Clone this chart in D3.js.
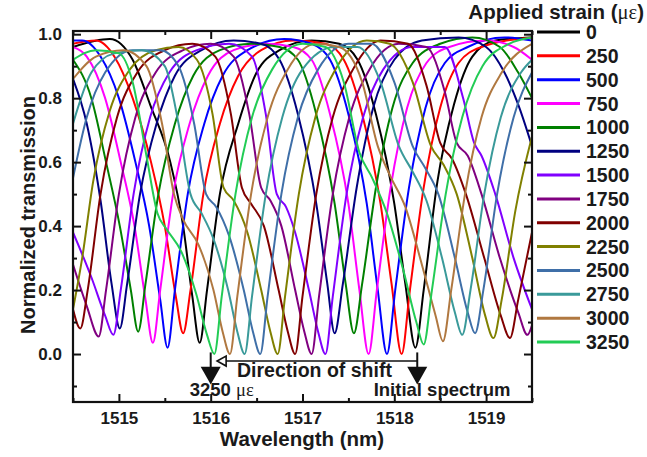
<!DOCTYPE html>
<html>
<head>
<meta charset="utf-8">
<script src="https://cdn.jsdelivr.net/npm/d3@7"></script>
<style>
  body { margin: 0; background: #fff; }
  text { font-family: 'Liberation Sans', Arial, sans-serif; font-weight: bold; fill: #1a1a1a; }
</style>
</head>
<body>
<script>
// ---------------- data ----------------
const strains = ['0', '250', '500', '750', '1000', '1250', '1500', '1750', '2000', '2250', '2500', '2750', '3000', '3250']
const colors = ['#000000', '#ff0000', '#0000ff', '#ff00ff', '#008000', '#000080', '#8000ff',
    '#800080', '#800000', '#808000', '#3f6fa8', '#3a9a9a', '#b07840', '#22cc55']

const xTicks = [1515, 1516, 1517, 1518, 1519]
const xMinor = [1514.5, 1515.5, 1516.5, 1517.5, 1518.5, 1519.5]
const yTicks = [0, 0.2, 0.4, 0.6, 0.8, 1.0]
const yMinor = [-0.1, 0.1, 0.3, 0.5, 0.7, 0.9]

// [wavelength (nm), normalized transmission]
const spec0 = [[1514.5, 0.96], [1514.9, 0.985], [1515.15, 0.92], [1515.34, 0.78], [1515.56, 0.6], [1515.7, 0.4], [1515.8, 0.18],
    [1515.88, 0.035], [1515.96, 0.2], [1516.1, 0.5], [1516.3, 0.72], [1516.5, 0.88], [1516.75, 0.95], [1517.1, 0.98],
    [1517.4, 0.97], [1517.6, 0.92], [1517.8, 0.75], [1518.0, 0.47], [1518.12, 0.22], [1518.23, 0.02], [1518.32, 0.2],
    [1518.47, 0.54], [1518.65, 0.78], [1518.85, 0.93], [1519.1, 0.98], [1519.5, 0.99]]
const spec250 = [[1514.5, 0.97], [1514.75, 0.98], [1514.95, 0.93], [1515.15, 0.8], [1515.35, 0.6], [1515.5, 0.4], [1515.62, 0.18],
    [1515.7, 0.065], [1515.78, 0.2], [1515.92, 0.5], [1516.1, 0.72], [1516.3, 0.87], [1516.55, 0.95], [1516.9, 0.98],
    [1517.25, 0.97], [1517.45, 0.92], [1517.65, 0.75], [1517.85, 0.47], [1517.97, 0.22], [1518.08, 0.0], [1518.17, 0.2],
    [1518.32, 0.52], [1518.5, 0.77], [1518.7, 0.91], [1518.95, 0.96], [1519.5, 0.99]]
const spec500 = [[1514.5, 0.98], [1514.6, 0.98], [1514.8, 0.93], [1515.0, 0.8], [1515.18, 0.6], [1515.33, 0.4], [1515.45, 0.17],
    [1515.53, 0.02], [1515.61, 0.2], [1515.75, 0.5], [1515.93, 0.72], [1516.13, 0.87], [1516.4, 0.95], [1516.8, 0.985],
    [1517.1, 0.97], [1517.3, 0.92], [1517.5, 0.75], [1517.7, 0.47], [1517.82, 0.2], [1517.92, 0.0], [1518.01, 0.2],
    [1518.16, 0.52], [1518.34, 0.77], [1518.55, 0.91], [1518.8, 0.96], [1519.2, 0.99], [1519.5, 0.98]]
const spec750 = [[1514.5, 0.96], [1514.65, 0.93], [1514.85, 0.8], [1515.02, 0.6], [1515.17, 0.4], [1515.29, 0.17],
    [1515.37, 0.035], [1515.45, 0.2], [1515.59, 0.5], [1515.77, 0.72], [1515.97, 0.87], [1516.25, 0.95], [1516.6, 0.97],
    [1516.9, 0.96], [1517.1, 0.92], [1517.3, 0.75], [1517.5, 0.47], [1517.62, 0.2], [1517.72, 0.0], [1517.81, 0.2],
    [1517.96, 0.52], [1518.14, 0.77], [1518.35, 0.91], [1518.6, 0.96], [1519.0, 0.98], [1519.3, 0.96], [1519.5, 0.92]]
const spec1000 = [[1514.5, 0.92], [1514.7, 0.8], [1514.86, 0.6], [1515.01, 0.4], [1515.13, 0.2], [1515.21, 0.07],
    [1515.29, 0.22], [1515.43, 0.5], [1515.61, 0.72], [1515.81, 0.87], [1516.1, 0.95], [1516.45, 0.97], [1516.75, 0.96],
    [1516.95, 0.92], [1517.15, 0.75], [1517.35, 0.47], [1517.47, 0.22], [1517.56, 0.065], [1517.65, 0.22], [1517.8, 0.52],
    [1517.98, 0.77], [1518.2, 0.91], [1518.5, 0.97], [1518.85, 0.99], [1519.15, 0.96], [1519.35, 0.88], [1519.5, 0.8]]
const spec1250 = [[1514.5, 0.86], [1514.65, 0.72], [1514.8, 0.48], [1514.92, 0.22], [1515.01, 0.08], [1515.09, 0.22],
    [1515.23, 0.5], [1515.41, 0.72], [1515.61, 0.87], [1515.9, 0.95], [1516.25, 0.98], [1516.55, 0.97], [1516.75, 0.92],
    [1516.95, 0.75], [1517.15, 0.47], [1517.27, 0.22], [1517.35, 0.065], [1517.44, 0.22], [1517.59, 0.52], [1517.77, 0.77],
    [1518.0, 0.92], [1518.3, 0.98], [1518.7, 0.99], [1519.0, 0.96], [1519.2, 0.88], [1519.35, 0.78], [1519.5, 0.65]]
const spec1500 = [[1514.5, 0.38], [1514.7, 0.24], [1514.85, 0.12], [1514.94, 0.06], [1515.02, 0.2], [1515.16, 0.5],
    [1515.34, 0.74], [1515.55, 0.88], [1515.85, 0.95], [1516.2, 0.97], [1516.45, 0.93], [1516.6, 0.75], [1516.72, 0.5],
    [1516.82, 0.46], [1516.92, 0.38], [1517.07, 0.2], [1517.17, 0.07], [1517.25, 0.0], [1517.33, 0.18], [1517.48, 0.5],
    [1517.66, 0.74], [1517.88, 0.89], [1518.2, 0.96], [1518.55, 0.96], [1518.75, 0.8], [1518.87, 0.66], [1518.95, 0.62],
    [1519.1, 0.5], [1519.3, 0.3], [1519.5, 0.14]]
const spec1750 = [[1514.5, 0.28], [1514.65, 0.15], [1514.78, 0.055], [1514.86, 0.2], [1515.0, 0.5], [1515.18, 0.74],
    [1515.4, 0.88], [1515.7, 0.95], [1516.0, 0.97], [1516.25, 0.93], [1516.42, 0.75], [1516.55, 0.52], [1516.65, 0.48],
    [1516.77, 0.4], [1516.92, 0.2], [1517.02, 0.07], [1517.1, 0.0], [1517.18, 0.18], [1517.33, 0.5], [1517.51, 0.74],
    [1517.73, 0.89], [1518.05, 0.97], [1518.35, 0.96], [1518.55, 0.82], [1518.68, 0.66], [1518.8, 0.62], [1518.95, 0.5],
    [1519.15, 0.3], [1519.35, 0.13], [1519.45, 0.06], [1519.5, 0.09]]
const spec2000 = [[1514.5, 0.14], [1514.58, 0.08], [1514.66, 0.2], [1514.8, 0.5], [1514.98, 0.74], [1515.2, 0.88],
    [1515.5, 0.95], [1515.8, 0.97], [1516.05, 0.93], [1516.22, 0.75], [1516.34, 0.52], [1516.44, 0.47], [1516.58, 0.4],
    [1516.74, 0.2], [1516.84, 0.07], [1516.92, 0.0], [1517.0, 0.18], [1517.15, 0.5], [1517.33, 0.74], [1517.55, 0.89],
    [1517.85, 0.98], [1518.15, 0.97], [1518.35, 0.84], [1518.5, 0.66], [1518.63, 0.61], [1518.78, 0.5], [1518.98, 0.3],
    [1519.16, 0.12], [1519.26, 0.05], [1519.35, 0.17], [1519.5, 0.38]]
const spec2250 = [[1514.5, 0.14], [1514.6, 0.3], [1514.72, 0.54], [1514.9, 0.76], [1515.12, 0.89], [1515.4, 0.95],
    [1515.65, 0.96], [1515.85, 0.92], [1516.02, 0.75], [1516.14, 0.52], [1516.25, 0.48], [1516.4, 0.38], [1516.55, 0.2],
    [1516.65, 0.07], [1516.73, 0.0], [1516.81, 0.18], [1516.96, 0.5], [1517.14, 0.74], [1517.36, 0.89], [1517.7, 0.98],
    [1517.95, 0.97], [1518.2, 0.85], [1518.4, 0.65], [1518.54, 0.59], [1518.68, 0.5], [1518.85, 0.3], [1518.99, 0.12],
    [1519.08, 0.05], [1519.17, 0.17], [1519.32, 0.45], [1519.5, 0.68]]
const spec2500 = [[1514.5, 0.55], [1514.65, 0.74], [1514.85, 0.88], [1515.15, 0.95], [1515.45, 0.95], [1515.65, 0.9],
    [1515.82, 0.72], [1515.95, 0.5], [1516.06, 0.46], [1516.2, 0.37], [1516.36, 0.2], [1516.46, 0.07], [1516.54, 0.0],
    [1516.62, 0.18], [1516.77, 0.5], [1516.95, 0.74], [1517.17, 0.89], [1517.5, 0.97], [1517.75, 0.97], [1518.0, 0.85],
    [1518.2, 0.65], [1518.34, 0.58], [1518.48, 0.5], [1518.66, 0.3], [1518.8, 0.13], [1518.88, 0.065], [1518.97, 0.2],
    [1519.12, 0.5], [1519.3, 0.74], [1519.5, 0.88]]
const spec2750 = [[1514.5, 0.72], [1514.7, 0.88], [1514.95, 0.94], [1515.25, 0.95], [1515.5, 0.9], [1515.65, 0.72],
    [1515.78, 0.5], [1515.9, 0.44], [1516.03, 0.36], [1516.19, 0.2], [1516.29, 0.07], [1516.37, 0.0], [1516.45, 0.18],
    [1516.6, 0.5], [1516.78, 0.74], [1517.0, 0.89], [1517.35, 0.96], [1517.6, 0.96], [1517.85, 0.85], [1518.05, 0.65],
    [1518.2, 0.57], [1518.35, 0.48], [1518.52, 0.3], [1518.66, 0.13], [1518.74, 0.06], [1518.83, 0.2], [1518.98, 0.5],
    [1519.16, 0.74], [1519.38, 0.88], [1519.5, 0.92]]
const spec3000 = [[1514.5, 0.86], [1514.75, 0.93], [1515.05, 0.95], [1515.3, 0.9], [1515.47, 0.72], [1515.6, 0.5],
    [1515.7, 0.42], [1515.87, 0.34], [1516.03, 0.2], [1516.13, 0.07], [1516.21, 0.0], [1516.29, 0.18], [1516.44, 0.5],
    [1516.62, 0.74], [1516.84, 0.89], [1517.15, 0.97], [1517.4, 0.96], [1517.65, 0.85], [1517.82, 0.65], [1517.95, 0.56],
    [1518.12, 0.46], [1518.3, 0.28], [1518.45, 0.12], [1518.53, 0.04], [1518.62, 0.2], [1518.77, 0.5], [1518.95, 0.74],
    [1519.17, 0.88], [1519.5, 0.97]]
const spec3250 = [[1514.5, 0.92], [1514.75, 0.95], [1515.0, 0.94], [1515.15, 0.85], [1515.3, 0.62], [1515.42, 0.44],
    [1515.52, 0.39], [1515.68, 0.32], [1515.84, 0.19], [1515.96, 0.06], [1516.04, 0.0], [1516.12, 0.18], [1516.27, 0.5],
    [1516.45, 0.74], [1516.67, 0.89], [1517.0, 0.97], [1517.25, 0.96], [1517.45, 0.85], [1517.62, 0.63], [1517.76, 0.55],
    [1517.92, 0.44], [1518.1, 0.26], [1518.24, 0.1], [1518.32, 0.03], [1518.41, 0.2], [1518.56, 0.5], [1518.74, 0.74],
    [1518.96, 0.9], [1519.25, 0.97], [1519.5, 0.99]]

const spectra = [spec0, spec250, spec500, spec750, spec1000, spec1250, spec1500,
    spec1750, spec2000, spec2250, spec2500, spec2750, spec3000, spec3250]

// ---------------- layout ----------------
const W = 647, H = 457
const plot = { left: 73, right: 532, top: 31, bottom: 402 }

const svg = d3.select('body').append('svg')
    .attr('width', W)
    .attr('height', H)

const x = d3.scaleLinear().domain([1514.5, 1519.5]).range([plot.left, plot.right])
const y = d3.scaleLinear().domain([-0.15, 1.01]).range([plot.bottom, plot.top])

svg.append('clipPath').attr('id', 'clip')
    .append('rect')
    .attr('x', plot.left).attr('y', plot.top)
    .attr('width', plot.right - plot.left).attr('height', plot.bottom - plot.top)

// ---------------- spectra ----------------
const line = d3.line()
    .x(d => x(d[0]))
    .y(d => y(d[1]))
    .curve(d3.curveMonotoneX)

svg.append('g')
    .attr('clip-path', 'url(#clip)')
    .selectAll('path')
    .data(spectra)
    .enter().append('path')
    .attr('d', d => line(d))
    .attr('fill', 'none')
    .attr('stroke', (d, i) => colors[i])
    .attr('stroke-width', 2)
    .attr('stroke-linejoin', 'round')

// ---------------- axes ----------------
function styleAxis(g) {
    g.select('.domain').remove()
    g.selectAll('.tick line').attr('stroke', '#111').attr('stroke-width', 2)
    g.selectAll('.tick text')
        .style('font-family', "'Liberation Sans', Arial, sans-serif")
        .style('font-weight', 'bold')
        .style('font-size', '17px')
        .attr('fill', '#1a1a1a')
}

svg.append('g')
    .attr('transform', 'translate(0,' + plot.bottom + ')')
    .call(d3.axisBottom(x).tickValues(xTicks).tickFormat(d3.format('d')).tickSizeInner(-8).tickSizeOuter(0).tickPadding(10))
    .call(styleAxis)
svg.append('g')
    .attr('transform', 'translate(0,' + plot.bottom + ')')
    .call(d3.axisBottom(x).tickValues(xMinor).tickFormat('').tickSizeInner(-4).tickSizeOuter(0))
    .call(styleAxis)
svg.append('g')
    .attr('transform', 'translate(0,' + plot.top + ')')
    .call(d3.axisTop(x).tickValues(xTicks).tickFormat('').tickSizeInner(-8).tickSizeOuter(0))
    .call(styleAxis)
svg.append('g')
    .attr('transform', 'translate(0,' + plot.top + ')')
    .call(d3.axisTop(x).tickValues(xMinor).tickFormat('').tickSizeInner(-4).tickSizeOuter(0))
    .call(styleAxis)

svg.append('g')
    .attr('transform', 'translate(' + plot.left + ',0)')
    .call(d3.axisLeft(y).tickValues(yTicks).tickFormat(d3.format('.1f')).tickSizeInner(-8).tickSizeOuter(0).tickPadding(11))
    .call(styleAxis)
svg.append('g')
    .attr('transform', 'translate(' + plot.left + ',0)')
    .call(d3.axisLeft(y).tickValues(yMinor).tickFormat('').tickSizeInner(-4).tickSizeOuter(0))
    .call(styleAxis)
svg.append('g')
    .attr('transform', 'translate(' + plot.right + ',0)')
    .call(d3.axisRight(y).tickValues(yTicks).tickFormat('').tickSizeInner(-8).tickSizeOuter(0))
    .call(styleAxis)
svg.append('g')
    .attr('transform', 'translate(' + plot.right + ',0)')
    .call(d3.axisRight(y).tickValues(yMinor).tickFormat('').tickSizeInner(-4).tickSizeOuter(0))
    .call(styleAxis)

svg.append('rect')
    .attr('x', plot.left).attr('y', plot.top)
    .attr('width', plot.right - plot.left).attr('height', plot.bottom - plot.top)
    .attr('fill', 'none')
    .attr('stroke', '#111')
    .attr('stroke-width', 2.2)

svg.append('text')
    .attr('x', 302)
    .attr('y', 446)
    .attr('text-anchor', 'middle')
    .style('font-size', '20.5px')
    .text('Wavelength (nm)')

svg.append('text')
    .attr('transform', 'translate(35,' + 215 + ') rotate(-90)')
    .attr('text-anchor', 'middle')
    .style('font-size', '20px')
    .text('Normalized transmission')

// ---------------- annotations ----------------
const ann = svg.append('g')
const leftW = 1516.0, rightW = 1518.25

ann.append('line')
    .attr('x1', x(rightW)).attr('x2', x(1516.1))
    .attr('y1', y(-0.022)).attr('y2', y(-0.022))
    .attr('stroke', '#111').attr('stroke-width', 1.6)
ann.append('path')
    .attr('d', 'M' + x(1516.07) + ',' + y(-0.022) + 'l9,-5l0,10z')
    .attr('fill', '#fff').attr('stroke', '#111').attr('stroke-width', 1.6)

;[leftW, rightW].forEach(w => {
    ann.append('line')
        .attr('x1', x(w)).attr('x2', x(w))
        .attr('y1', y(0.005)).attr('y2', y(-0.07))
        .attr('stroke', '#111').attr('stroke-width', 2)
    ann.append('path')
        .attr('d', 'M' + (x(w) - 10) + ',' + y(-0.04) + 'L' + (x(w) + 10) + ',' + y(-0.04) + 'L' + x(w) + ',' + y(-0.095) + 'Z')
        .attr('fill', '#111')
})

ann.append('text')
    .attr('x', x(1517.13)).attr('y', y(-0.073))
    .attr('text-anchor', 'middle')
    .style('font-size', '19.5px')
    .text('Direction of shift')

const lbl = ann.append('text')
    .attr('x', x(1516.12)).attr('y', y(-0.13))
    .attr('text-anchor', 'middle')
    .style('font-size', '18.5px')
lbl.append('tspan').text('3250 ')
lbl.append('tspan').style('font-family', "'Liberation Serif', serif").style('font-weight', 'normal').text('με')

ann.append('text')
    .attr('x', x(1518.52)).attr('y', y(-0.13))
    .attr('text-anchor', 'middle')
    .style('font-size', '18.5px')
    .text('Initial spectrum')

// ---------------- legend ----------------
const legend = svg.append('g')
const rowY = d3.scalePoint().domain(strains).range([32, 342])

const title = legend.append('text')
    .attr('x', 644).attr('y', 19)
    .attr('text-anchor', 'end')
    .style('font-size', '20.5px')
title.append('tspan').text('Applied strain (')
title.append('tspan').style('font-family', "'Liberation Serif', serif").style('font-weight', 'normal').text('με')
title.append('tspan').text(')')

legend.selectAll('line')
    .data(strains)
    .enter().append('line')
    .attr('x1', 537).attr('x2', 580)
    .attr('y1', d => rowY(d)).attr('y2', d => rowY(d))
    .attr('stroke', (d, i) => colors[i])
    .attr('stroke-width', 3)

legend.selectAll('text.lab')
    .data(strains)
    .enter().append('text')
    .attr('class', 'lab')
    .attr('x', 586)
    .attr('y', d => rowY(d) + 7)
    .style('font-size', '19.5px')
    .text(d => d)
</script>
</body>
</html>
